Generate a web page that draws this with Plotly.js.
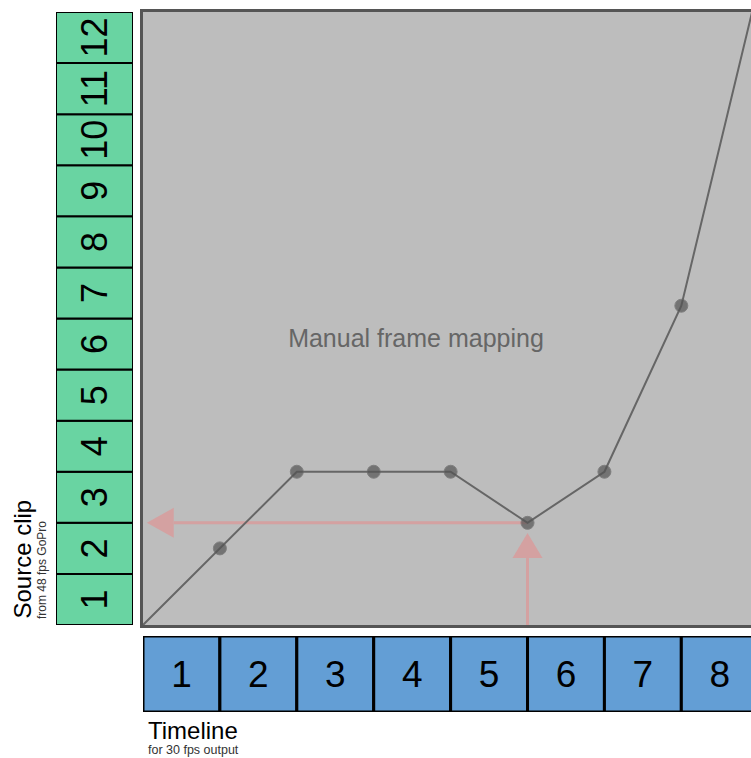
<!DOCTYPE html>
<html>
<head>
<meta charset="utf-8">
<script src="https://cdn.plot.ly/plotly-3.0.1.min.js"></script>
<style>html,body{margin:0;padding:0;background:#fff;}#chart{width:751px;height:758px;}</style>
</head>
<body>
<div id="chart"></div>
<script>
// Timeline frames (30 fps output) and source frames (48 fps GoPro)
const timelineFrames = [1, 2, 3, 4, 5, 6, 7, 8];
const timelineCenters = [0.5, 1.5, 2.5, 3.5, 4.5, 5.5, 6.5, 7.5];
const sourceFrames = [1, 2, 3, 4, 5, 6, 7, 8, 9, 10, 11, 12];
const sourceCenters = [0.5, 1.5, 2.5, 3.5, 4.5, 5.5, 6.5, 7.5, 8.5, 9.5, 10.5, 11.5];

// Manual mapping curve: timeline position -> source position
const mapX = [0, 1, 2, 3, 4, 5, 6, 7, 8];
const mapY = [0, 1.5, 3, 3, 3, 2, 3, 6.25, 12.5];
const mapMarkerSize = [0, 13, 13, 13, 13, 13, 13, 13, 0];

// Highlight arrows (timeline frame 6 -> source frame 2)
const vShaftX = [5, 5];
const vShaftY = [0, 1.31];
const vHeadX = [5, 4.805, 5.195];
const vHeadY = [1.8, 1.31, 1.31];
const hShaftX = [5, 0.40];
const hShaftY = [2, 2];
const hHeadX = [0.05, 0.40, 0.40];
const hHeadY = [2, 2.294, 1.706];

const W = 751, H = 758;
const px = v => v / W;
const py = v => 1 - v / H;

const arrowColor = '#d4a1a1';
const fontFam = '"Liberation Sans", Arial, Helvetica, sans-serif';

const traces = [
  // blue timeline cells
  {
    type: 'bar', x: timelineCenters, y: timelineFrames.map(() => 1), width: 1,
    xaxis: 'x', yaxis: 'y2',
    marker: {color: '#639ed5', line: {color: '#000', width: 3}},
    text: timelineFrames.map(String), textposition: 'inside', insidetextanchor: 'middle',
    textfont: {family: fontFam, size: 37, color: '#000'},
    cliponaxis: false, hoverinfo: 'skip', showlegend: false
  },
  // green source cells
  {
    type: 'bar', orientation: 'h', y: sourceCenters, x: sourceFrames.map(() => 1), width: 1,
    xaxis: 'x2', yaxis: 'y',
    marker: {color: '#69d4a2', line: {color: '#000', width: 2}},
    text: sourceFrames.map(String), textposition: 'inside', insidetextanchor: 'middle', textangle: -90,
    textfont: {family: fontFam, size: 36, color: '#000'},
    cliponaxis: false, hoverinfo: 'skip', showlegend: false
  },
  // arrows
  {type: 'scatter', mode: 'lines', x: vShaftX, y: vShaftY, line: {color: arrowColor, width: 3}, hoverinfo: 'skip', showlegend: false},
  {type: 'scatter', mode: 'lines', x: vHeadX, y: vHeadY, fill: 'toself', fillcolor: arrowColor, line: {color: arrowColor, width: 0}, hoverinfo: 'skip', showlegend: false},
  {type: 'scatter', mode: 'lines', x: hShaftX, y: hShaftY, line: {color: arrowColor, width: 3}, hoverinfo: 'skip', showlegend: false},
  {type: 'scatter', mode: 'lines', x: hHeadX, y: hHeadY, fill: 'toself', fillcolor: arrowColor, line: {color: arrowColor, width: 0}, hoverinfo: 'skip', showlegend: false},
  // mapping line
  {
    type: 'scatter', mode: 'lines+markers', x: mapX, y: mapY,
    line: {color: '#666666', width: 2},
    marker: {color: '#545454', size: mapMarkerSize},
    hoverinfo: 'skip', showlegend: false
  }
];

const layout = {
  width: W, height: H,
  margin: {l: 0, r: 0, t: 0, b: 0},
  paper_bgcolor: '#ffffff',
  plot_bgcolor: '#bdbdbd',
  bargap: 0,
  constraintext: 'none',
  font: {family: fontFam},
  title: {
    text: 'Manual frame mapping',
    x: px(416), y: py(338), xref: 'paper', yref: 'paper', xanchor: 'center', yanchor: 'middle',
    font: {family: fontFam, size: 25, color: '#666666'}
  },
  xaxis: {
    domain: [px(143), 1], range: [0, 7.906],
    showgrid: false, zeroline: false, showticklabels: false, ticks: '',
    showline: true, mirror: true, linecolor: '#555555', linewidth: 3
  },
  yaxis: {
    domain: [py(625), py(12)], range: [0, 12],
    showgrid: false, zeroline: false, showticklabels: false, ticks: '',
    showline: true, mirror: false, linecolor: '#555555', linewidth: 3
  },
  yaxis2: {
    domain: [py(712), py(636)], range: [0, 1], anchor: 'x',
    showgrid: false, zeroline: false, showticklabels: false, ticks: '', showline: false
  },
  xaxis2: {
    domain: [px(56), px(133)], range: [0, 1], anchor: 'y',
    showgrid: false, zeroline: false, showticklabels: false, ticks: '', showline: false
  },
  annotations: [
    {text: 'Source clip', xref: 'paper', yref: 'paper', x: px(22), y: py(621), xanchor: 'center', yanchor: 'bottom',
     textangle: -90, showarrow: false, font: {family: fontFam, size: 24, color: '#000'}},
    {text: 'from 48 fps GoPro', xref: 'paper', yref: 'paper', x: px(42), y: py(621), xanchor: 'center', yanchor: 'bottom',
     textangle: -90, showarrow: false, font: {family: fontFam, size: 12, color: '#333'}},
    {text: 'Timeline', xref: 'paper', yref: 'paper', x: px(146), y: py(730), xanchor: 'left', yanchor: 'middle',
     showarrow: false, font: {family: fontFam, size: 24, color: '#000'}},
    {text: 'for 30 fps output', xref: 'paper', yref: 'paper', x: px(146), y: py(750), xanchor: 'left', yanchor: 'middle',
     showarrow: false, font: {family: fontFam, size: 12.5, color: '#333'}}
  ]
};

Plotly.newPlot('chart', traces, layout, {displayModeBar: false, staticPlot: true});
</script>
</body>
</html>
